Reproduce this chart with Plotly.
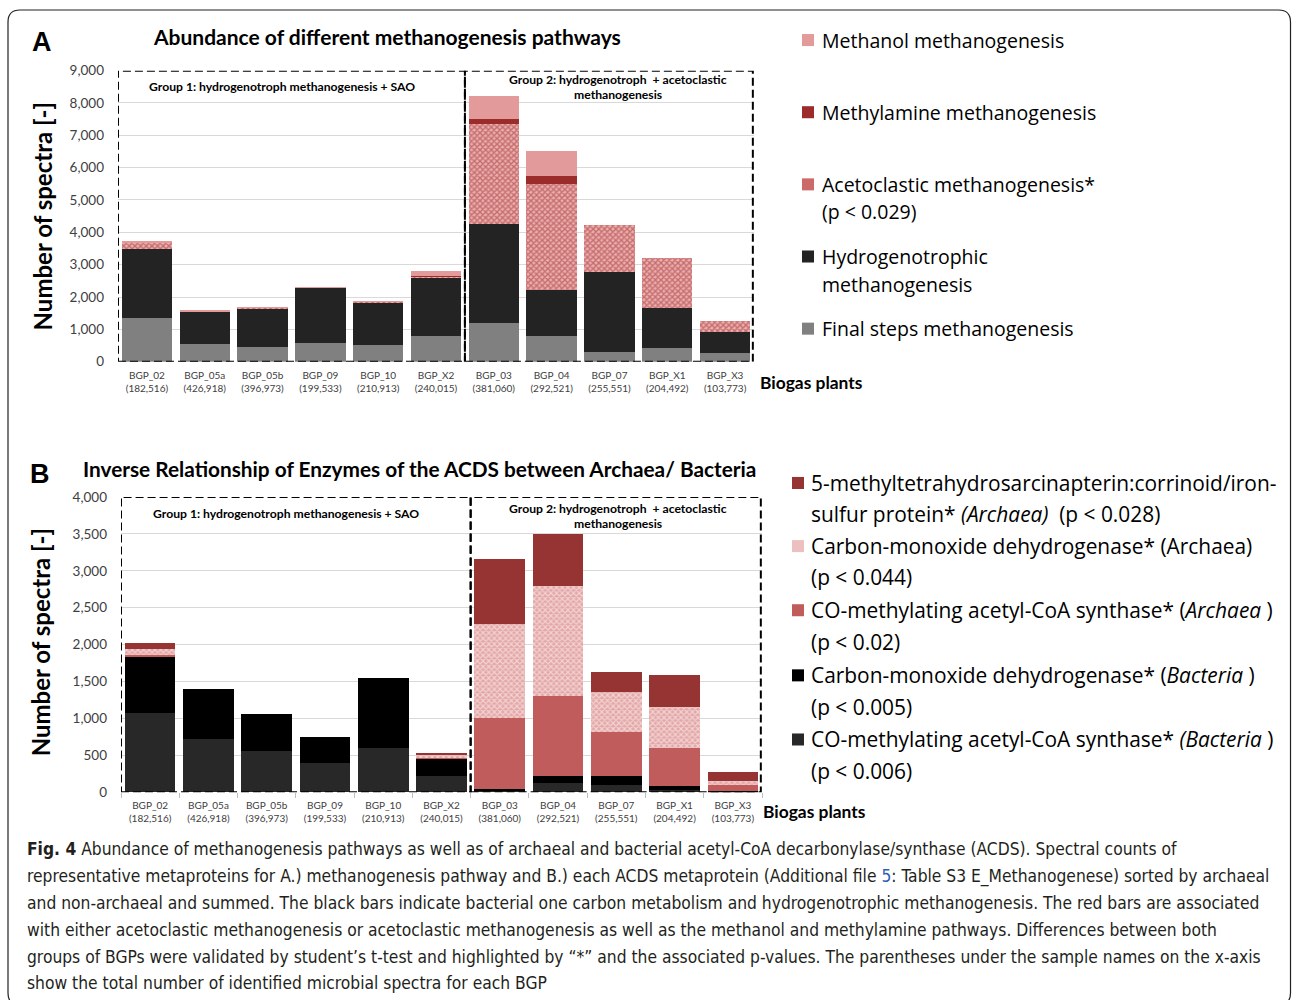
import plotly.graph_objects as go

W, H = 1292, 1000
# vertical calibration of the rendering pipeline (observed: y_out = 8 + 0.982 * y_in)
YOFF, YSCALE = 8.0, 0.982
def px(x): return x / W
def py(y): return 1 - ((y - YOFF) / YSCALE) / H

plants = ["BGP_02", "BGP_05a", "BGP_05b", "BGP_09", "BGP_10", "BGP_X2",
          "BGP_03", "BGP_04", "BGP_07", "BGP_X1", "BGP_X3"]
totals = ["182,516", "426,918", "396,973", "199,533", "210,913", "240,015",
          "381,060", "292,521", "255,551", "204,492", "103,773"]
ticktext = [f"{p}<br>({t})" for p, t in zip(plants, totals)]

# Panel A: methanogenesis pathways (stack order bottom -> top)
a_final = [1350, 540, 450, 590, 510, 800, 1190, 795, 290, 435, 260]
a_hydro = [2120, 1010, 1205, 1705, 1340, 1805, 3055, 1415, 2470, 1240, 670]
a_aceto = [220, 20, 20, 15, 20, 50, 3100, 3275, 1455, 1540, 340]
a_methylamine = [20, 0, 5, 0, 0, 10, 145, 270, 0, 0, 0]
a_methanol = [30, 10, 5, 5, 5, 150, 720, 775, 0, 0, 0]

# Panel B: ACDS enzymes (stack order bottom -> top)
b_acs_bac = [1080, 720, 565, 395, 605, 215, 30, 120, 100, 30, 8]
b_codh_bac = [750, 685, 490, 355, 945, 240, 15, 105, 125, 60, 10]
b_acs_arc = [35, 0, 0, 0, 0, 15, 960, 1085, 590, 515, 82]
b_codh_arc = [80, 0, 0, 0, 0, 35, 1275, 1490, 545, 555, 58]
b_methyl = [75, 0, 0, 0, 0, 30, 875, 700, 275, 435, 122]

C_METHANOL = "#e29a9a"
C_METHYLAMINE = "#9c2b2b"
C_ACETO_BG = "#ecaeae"
C_ACETO_FG = "#9e2c2c"
C_HYDRO = "#232323"
C_FINAL = "#808080"
C_B_METHYL = "#963333"
C_B_CODH_ARC_BG = "#e4a6a6"
C_B_CODH_ARC_FG = "#ffffff"
C_B_ACS_ARC = "#c05c5c"
C_B_CODH_BAC = "#000000"
C_B_ACS_BAC = "#282828"

fig = go.Figure()

def bar(y, color, xa, ya, name, pattern=None):
    m = dict(color=color, line=dict(width=0))
    if pattern:
        m["pattern"] = pattern
    fig.add_trace(go.Bar(x=plants, y=y, marker=m, xaxis=xa, yaxis=ya,
                         name=name, showlegend=False))

bar(a_final, C_FINAL, "x", "y", "Final steps methanogenesis")
bar(a_hydro, C_HYDRO, "x", "y", "Hydrogenotrophic methanogenesis")
bar(a_aceto, C_ACETO_BG, "x", "y", "Acetoclastic methanogenesis*",
    dict(shape="x", fgcolor=C_ACETO_FG, bgcolor=C_ACETO_BG, size=4, solidity=0.58))
bar(a_methylamine, C_METHYLAMINE, "x", "y", "Methylamine methanogenesis")
bar(a_methanol, C_METHANOL, "x", "y", "Methanol methanogenesis")

bar(b_acs_bac, C_B_ACS_BAC, "x2", "y2", "CO-methylating acetyl-CoA synthase* (Bacteria)")
bar(b_codh_bac, C_B_CODH_BAC, "x2", "y2", "Carbon-monoxide dehydrogenase* (Bacteria)")
bar(b_acs_arc, C_B_ACS_ARC, "x2", "y2", "CO-methylating acetyl-CoA synthase* (Archaea)")
bar(b_codh_arc, C_B_CODH_ARC_BG, "x2", "y2", "Carbon-monoxide dehydrogenase* (Archaea)",
    dict(shape="x", fgcolor=C_B_CODH_ARC_FG, bgcolor=C_B_CODH_ARC_BG, size=4, solidity=0.5))
bar(b_methyl, C_B_METHYL, "x2", "y2", "5-methyltetrahydrosarcinapterin:corrinoid/iron-sulfur protein* (Archaea)")

FONT = "Lato, 'Open Sans', sans-serif"
LFONT = "'Open Sans', Lato, sans-serif"
xcommon = dict(type="category", tickvals=plants, ticktext=ticktext,
               tickfont=dict(family=FONT, size=10, color="#404040"),
               showgrid=False, showline=False, ticklabelstandoff=6,
               tickson="boundaries", ticklen=5, tickcolor="#bfbfbf",
               range=[-0.5, 10.5], fixedrange=True)
ycommon = dict(showgrid=True, gridcolor="#d9d9d9", gridwidth=1, zeroline=False,
               showline=False, tickformat=",", ticks="", ticklabelstandoff=13,
               tickfont=dict(family=FONT, size=13.5, color="#404040"))

fig.update_layout(
    width=W, height=H, margin=dict(l=0, r=0, t=0, b=0),
    paper_bgcolor="white", plot_bgcolor="white",
    barmode="stack", bargap=0.13, showlegend=False,
    xaxis=dict(domain=[px(118), px(754)], anchor="y", ticks="", **xcommon),
    yaxis=dict(domain=[py(361), py(70.5)], anchor="x", range=[0, 9000], dtick=1000, **ycommon),
    xaxis2=dict(domain=[px(121), px(762)], anchor="y2", ticks="outside", **xcommon),
    yaxis2=dict(domain=[py(790.7), py(496)], anchor="x2", range=[0, 4000], dtick=500, **ycommon),
)

# dashed group boxes
dash = "8px,4px"
for xr, yr, top in (("x", "y", 9000), ("x2", "y2", 4000)):
    for x0, x1 in ((-0.5, 5.5), (5.5, 10.48)):
        fig.add_shape(type="rect", xref=xr, yref=yr, x0=x0, x1=x1, y0=0, y1=top,
                      line=dict(color="black", width=2, dash=dash), layer="above")

# rounded frame (bottom edge lies just outside the visible page)
r = 12
x0, x1, y0, y1 = 8, 1290.5, 10, 1003
path = (f"M {px(x0+r)},{py(y0)} L {px(x1-r)},{py(y0)} Q {px(x1)},{py(y0)} {px(x1)},{py(y0+r)} "
        f"L {px(x1)},{py(y1-r)} Q {px(x1)},{py(y1)} {px(x1-r)},{py(y1)} "
        f"L {px(x0+r)},{py(y1)} Q {px(x0)},{py(y1)} {px(x0)},{py(y1-r)} "
        f"L {px(x0)},{py(y0+r)} Q {px(x0)},{py(y0)} {px(x0+r)},{py(y0)} Z")
fig.add_shape(type="path", xref="paper", yref="paper", path=path,
              line=dict(color="#222222", width=1.2))

def ann(text, x, y, size, xanchor="left", bold=False, family=FONT, color="black",
        angle=0, yanchor="middle"):
    if bold:
        text = f"<b>{text}</b>"
    fig.add_annotation(text=text, x=px(x), y=py(y), xref="paper", yref="paper",
                       xanchor=xanchor, yanchor=yanchor, showarrow=False,
                       textangle=angle, font=dict(family=family, size=size, color=color))

ARIAL = "'Liberation Sans', Arial, sans-serif"
# panel letters and titles
ann("A", 42, 42, 27, "center", True, ARIAL)
ann("B", 40, 473, 27, "center", True, ARIAL)
ann("Abundance of different methanogenesis pathways", 387, 36, 21, "center", True)
ann("Inverse Relationship of Enzymes of the ACDS between Archaea/ Bacteria", 419, 468, 20.8, "center", True)
ann("Number of spectra [-]", 42, 216, 24, "center", True, angle=-90)
ann("Number of spectra [-]", 40, 641, 24, "center", True, angle=-90)
ann("Biogas plants", 758, 382, 17.4, "left", True)
ann("Biogas plants", 761, 810, 17.4, "left", True)

# group labels
GF = 12.2
ann("Group 1: hydrogenotroph methanogenesis + SAO", 282, 86, GF, "center", True)
ann("Group 2: hydrogenotroph  + acetoclastic", 618, 79, GF, "center", True)
ann("methanogenesis", 618, 94, GF, "center", True)
ann("Group 1: hydrogenotroph methanogenesis + SAO", 286, 512, GF, "center", True)
ann("Group 2: hydrogenotroph  + acetoclastic", 618, 507, GF, "center", True)
ann("methanogenesis", 618, 522, GF, "center", True)

# manual legends
def swatch(x, y, color, s=12):
    fig.add_shape(type="rect", xref="paper", yref="paper",
                  x0=px(x), x1=px(x + s), y0=py(y + s / 2), y1=py(y - s / 2),
                  fillcolor=color, line=dict(width=0))

legA = [
    (C_METHANOL, ["Methanol methanogenesis"], 40),
    (C_METHYLAMINE, ["Methylamine methanogenesis"], 112),
    ("#cc6a6a", ["Acetoclastic methanogenesis*", "(p < 0.029)"], 184),
    (C_HYDRO, ["Hydrogenotrophic", "methanogenesis"], 256),
    (C_FINAL, ["Final steps methanogenesis"], 328),
]
for col, lines, y in legA:
    swatch(802, y, col)
    for i, t in enumerate(lines):
        ann(t, 820, y + i * 27.5, 19.5, family=LFONT)

legB = [
    (C_B_METHYL, ["5-methyltetrahydrosarcinapterin:corrinoid/iron-",
                  "sulfur protein* <i>(Archaea)</i>  (p < 0.028)"], 482),
    ("#ecc0c0", ["Carbon-monoxide dehydrogenase* (Archaea)", "(p < 0.044)"], 545),
    (C_B_ACS_ARC, ["CO-methylating acetyl-CoA synthase* (<i>Archaea</i> )", "(p < 0.02)"], 609),
    (C_B_CODH_BAC, ["Carbon-monoxide dehydrogenase* (<i>Bacteria</i> )", "(p < 0.005)"], 674),
    (C_B_ACS_BAC, ["CO-methylating acetyl-CoA synthase* <i>(Bacteria</i> )", "(p < 0.006)"], 738),
]
for col, lines, y in legB:
    swatch(792, y, col)
    for i, t in enumerate(lines):
        ann(t, 809, y + i * 31.3, 20.9, family=LFONT)

# caption
CAPF = "'Liberation Sans Narrow', 'DejaVu Sans Condensed', Roboto, sans-serif"
caption = [
    "<b>Fig. 4</b> Abundance of methanogenesis pathways as well as of archaeal and bacterial acetyl-CoA decarbonylase/synthase (ACDS). Spectral counts of",
    "representative metaproteins for A.) methanogenesis pathway and B.) each ACDS metaprotein (Additional file <span style='color:#2b5fb4'>5</span>: Table S3 E_Methanogenese) sorted by archaeal",
    "and non-archaeal and summed. The black bars indicate bacterial one carbon metabolism and hydrogenotrophic methanogenesis. The red bars are associated",
    "with either acetoclastic methanogenesis or acetoclastic methanogenesis as well as the methanol and methylamine pathways. Differences between both",
    "groups of BGPs were validated by student’s t-test and highlighted by “*” and the associated p-values. The parentheses under the sample names on the x-axis",
    "show the total number of identified microbial spectra for each BGP",
]
for i, t in enumerate(caption):
    ann(t, 25, 847.5 + i * 26.8, 17.3, "left", False, CAPF, "#231f20")

fig.write_html(
    "out.html",
    config={"displayModeBar": False},
    post_script=(
        "document.body.style.margin='0';document.body.style.overflow='hidden';"
    ),
)
